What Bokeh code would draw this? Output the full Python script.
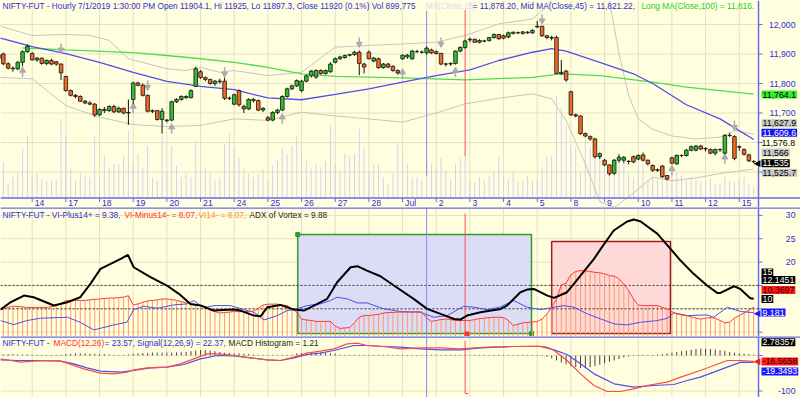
from bokeh.plotting import figure
from bokeh.models import Range1d, Label, Span
from bokeh.layouts import column
from bokeh.embed import file_html
from bokeh.resources import INLINE
from bokeh.core.properties import value

# ---------------- data ----------------
day_labels = ["14", "17", "18", "19", "20", "21", "24", "25", "26", "27", "28",
              "Jul", "2", "3", "4", "5", "8", "9", "10", "11", "12", "15"]
bars_per_day = 7
first_full_day_bar = 7

opens = [
    11885, 11900, 11867, 11852, 11850, 11872, 11908,
    11902, 11880, 11886, 11868, 11878, 11874, 11866,
    11824, 11776, 11760, 11756, 11740, 11734, 11730,
    11694, 11712, 11708, 11722, 11704, 11716, 11700,
    11746, 11802, 11794, 11760, 11706, 11708, 11678,
    11676, 11676, 11738, 11746, 11756, 11752, 11790,
    11840, 11820, 11814, 11800, 11808, 11808, 11750,
    11730, 11776, 11722, 11714, 11746, 11742, 11710,
    11684, 11676, 11702, 11710, 11756, 11782, 11792,
    11776, 11808, 11826, 11822, 11844, 11834, 11840,
    11872, 11884, 11888, 11896, 11898, 11906, 11866,
    11906, 11876, 11884, 11854, 11866, 11858, 11844,
    11884, 11890, 11884, 11908, 11906, 11904.1, 11914,
    11908, 11902, 11866, 11866, 11868, 11910, 11922,
    11948, 11950, 11940, 11944, 11946, 11956, 11966,
    11962, 11958, 11970, 11972, 11970, 11974, 11972,
    11992, 11994, 11962, 11956, 11956, 11834, 11842,
    11772, 11694, 11690, 11630, 11620, 11612, 11552,
    11540, 11524, 11496, 11540, 11540, 11536, 11552,
    11544, 11558, 11540, 11522, 11508, 11520, 11488,
    11548, 11528, 11556, 11556, 11574, 11574, 11588,
    11578, 11576, 11564, 11576, 11564, 11624, 11620,
    11586, 11576, 11558, 11536]
highs = [
    11900, 11905, 11872, 11858, 11876, 11912, 11933,
    11906, 11890, 11888, 11882, 11884, 11876, 11868,
    11826, 11780, 11764, 11760, 11744, 11740, 11734,
    11716, 11720, 11726, 11728, 11722, 11718, 11746,
    11806, 11806, 11800, 11762, 11712, 11710, 11716,
    11680, 11742, 11750, 11760, 11760, 11780, 11858,
    11846, 11824, 11816, 11812, 11816, 11820, 11756,
    11766, 11780, 11728, 11750, 11750, 11746, 11720,
    11690, 11706, 11714, 11760, 11786, 11796, 11814,
    11812, 11830, 11846, 11848, 11848, 11848, 11872,
    11888, 11894, 11898, 11900, 11910, 11912, 11870,
    11912, 11890, 11888, 11870, 11870, 11862, 11848,
    11898, 11900, 11914, 11914, 11912, 11925, 11918,
    11912, 11904, 11870, 11872, 11912, 11926, 11948,
    11956, 11952, 11950, 11948, 11958, 11970, 11968,
    11966, 11976, 11976, 11976, 11978, 11978, 11984,
    12012, 11996, 11964, 11962, 11962, 11880, 11846,
    11776, 11698, 11692, 11634, 11624, 11616, 11566,
    11544, 11526, 11544, 11560, 11554, 11540, 11556,
    11560, 11566, 11542, 11526, 11512, 11524, 11490,
    11552, 11560, 11560, 11578, 11590, 11592, 11592,
    11584, 11580, 11580, 11580, 11628, 11632, 11624,
    11590, 11580, 11562, 11540]
lows = [
    11880, 11862, 11848, 11840, 11845, 11858, 11904,
    11878, 11874, 11864, 11862, 11862, 11860, 11812,
    11772, 11756, 11750, 11738, 11730, 11726, 11686,
    11690, 11700, 11704, 11700, 11700, 11696, 11660,
    11730, 11790, 11756, 11702, 11700, 11674, 11630,
    11668, 11672, 11734, 11742, 11748, 11750, 11788,
    11816, 11808, 11796, 11792, 11800, 11744, 11744,
    11726, 11722, 11700, 11710, 11736, 11706, 11704,
    11672, 11672, 11696, 11706, 11752, 11778, 11788,
    11770, 11804, 11820, 11816, 11830, 11830, 11836,
    11868, 11880, 11884, 11892, 11894, 11828, 11834,
    11882, 11872, 11850, 11850, 11852, 11840, 11830,
    11880, 11884, 11880, 11904, 11902, 11897.3, 11900,
    11898, 11862, 11858, 11860, 11864, 11906, 11918,
    11940, 11938, 11936, 11940, 11942, 11952, 11948,
    11950, 11954, 11966, 11968, 11966, 11968, 11968,
    11988, 11958, 11950, 11946, 11832, 11828, 11806,
    11690, 11686, 11626, 11618, 11606, 11546, 11544,
    11520, 11488, 11490, 11532, 11530, 11526, 11530,
    11540, 11536, 11522, 11500, 11500, 11480, 11472,
    11526, 11524, 11550, 11552, 11570, 11570, 11574,
    11570, 11560, 11556, 11568, 11560, 11618, 11540,
    11572, 11556, 11534, 11530]
closes = [
    11898, 11867, 11852, 11850, 11872, 11908, 11926,
    11880, 11886, 11868, 11878, 11866, 11866, 11836,
    11776, 11760, 11756, 11740, 11734, 11730, 11694,
    11712, 11708, 11722, 11704, 11716, 11700, 11702,
    11802, 11794, 11760, 11706, 11708, 11678, 11706,
    11674, 11738, 11746, 11756, 11752, 11776, 11850,
    11820, 11814, 11800, 11808, 11806, 11750, 11750,
    11762, 11728, 11714, 11746, 11742, 11710, 11716,
    11676, 11702, 11710, 11756, 11782, 11792, 11810,
    11808, 11826, 11842, 11844, 11834, 11844, 11866,
    11884, 11890, 11895, 11898, 11906, 11868, 11856,
    11884, 11886, 11854, 11866, 11856, 11844, 11836,
    11896, 11896, 11910, 11908, 11906, 11920, 11904,
    11902, 11866, 11866, 11868, 11910, 11922, 11944,
    11950, 11940, 11946, 11944, 11956, 11966, 11952,
    11954, 11972, 11974, 11972, 11975, 11972, 11980,
    11994, 11962, 11956, 11954, 11834, 11838, 11812,
    11694, 11690, 11630, 11622, 11612, 11552, 11562,
    11524, 11494, 11540, 11550, 11550, 11536, 11534,
    11556, 11540, 11528, 11506, 11506, 11484, 11476,
    11530, 11556, 11556, 11574, 11586, 11588, 11578,
    11580, 11564, 11576, 11576, 11624, 11624, 11546,
    11584, 11560, 11538, 11535]
volume_k = [
    600, 883, 342, 508, 633, 1216, 1550,
    508, 591, 466, 425, 425, 466, 1966,
    1550, 716, 425, 633, 550, 508, 1550,
    550, 1050, 758, 841, 841, 1050, 1674,
    841, 1091, 758, 1300, 508, 425, 1550,
    675, 1300, 800, 508, 591, 508, 1424,
    758, 716, 591, 425, 508, 1341, 1591,
    1258, 1008, 716, 591, 508, 591, 716,
    425, 800, 966, 1258, 1091, 1300, 1550,
    1091, 925, 716, 841, 758, 925, 1800,
    841, 675, 1091, 1050, 1091, 1716, 1258,
    675, 841, 841, 508, 342, 591, 1383,
    1091, 841, 508, 508, 425, 900, 841,
    758, 1008, 675, 466, 841, 1008, 1008,
    425, 383, 508, 425, 550, 675, 1008,
    508, 466, 675, 383, 425, 550, 425,
    425, 758, 1050, 1050, 2549, 2257, 1800,
    1300, 1258, 633, 1550, 1258, 1091, 1175,
    800, 716, 758, 1091, 841, 591, 508,
    758, 841, 425, 508, 425, 758, 508,
    716, 633, 550, 425, 508, 425, 383,
    425, 466, 342, 342, 508, 425, 383,
    425, 508, 342, 258]

ma45_bar = [0, 1, 7, 14, 21, 28, 35, 42, 49, 56, 63, 70, 77, 84, 91, 98, 104, 111,
            115, 118, 125, 132, 136, 143, 150, 157]
ma45_val = [11955, 11951, 11925, 11901, 11872, 11838, 11807, 11790, 11779, 11751, 11745,
            11763, 11782, 11805, 11827, 11846, 11878, 11906, 11918, 11910, 11872, 11833,
            11800, 11728, 11680, 11610]
ma100_bar = [5, 14, 28, 35, 42, 49, 56, 63, 70, 84, 97, 111, 117, 125, 136, 143, 150, 157]
ma100_val = [11921, 11914, 11905, 11895, 11884, 11872, 11855, 11833, 11824, 11819, 11812,
             11821, 11833, 11827, 11805, 11788, 11776, 11764]
bb_up_bar = [0, 1, 7, 14, 19, 23, 27, 35, 39, 42, 46, 49, 56, 63, 70, 77, 84, 91, 97,
             104, 111, 114, 118, 122, 125, 127, 129, 131, 133, 136, 140, 145, 150, 153, 157]
bb_up_val = [12000, 11991, 11963, 11966, 11963, 11946, 11884, 11850, 11844, 11855, 11838,
             11844, 11827, 11838, 11923, 11929, 11934, 11940, 11963, 12002, 12019, 12060,
             12150, 12200, 12150, 12081, 11900, 11760, 11680, 11645, 11622, 11612, 11618,
             11640, 11628]
bb_lo_bar = [0, 7, 14, 21, 28, 35, 42, 49, 56, 63, 70, 77, 84, 91, 97, 104, 111, 115,
             118, 122, 125, 128, 131, 136, 140, 145, 150, 157]
bb_lo_val = [11821, 11816, 11725, 11686, 11661, 11654, 11658, 11680, 11675, 11703, 11690,
             11680, 11669, 11700, 11731, 11750, 11765, 11748, 11675, 11528, 11400, 11380,
             11415, 11483, 11470, 11480, 11495, 11510]
frac_dn_bar = [13, 31, 47, 75, 92, 113, 153]
frac_dn_price = [11914, 11788, 11833, 11934, 11934, 12013, 11652]
frac_up_bar = [5, 28, 36, 59, 84, 95, 140, 151]
frac_up_price = [11844, 11722, 11652, 11686, 11838, 11844, 11511, 11550]
cursor_bar = 89
marker_bar = 97

vi_minus = [
    9.8, 10.0, 10.3, 10.55, 10.5, 10.4, 10.3,
    10.3, 10.3, 10.3, 10.3, 10.5, 10.7, 11.2,
    11.7, 11.8, 11.8, 11.8, 11.8, 11.9, 12.05,
    12.1, 12.2, 12.3, 12.3, 12.4, 12.5, 12.8,
    10.8, 11.05, 11.4, 11.7, 11.8, 11.9, 12.1,
    12.1, 12.0, 11.8, 11.55, 11.3, 11.0, 10.8,
    10.7, 10.3, 9.7, 9.4, 9.1, 9.2, 9.3,
    9.4, 9.4, 9.4, 9.4, 9.5, 10.1, 10.8,
    11.0, 11.0, 11.0, 10.8, 10.7, 10.0, 9.3,
    7.8, 7.6, 7.5, 7.3, 7.3, 7.3, 7.3,
    6.3, 5.8, 5.9, 6.0, 7.0, 8.2, 8.55,
    8.55, 8.7, 8.8, 9.1, 9.2, 9.2, 9.3,
    9.3, 9.3, 9.3, 9.4, 9.3, 8.07, 7.3,
    7.5, 7.7, 7.8, 7.7, 7.5, 7.5, 7.5,
    7.5, 7.7, 7.9, 8.0, 8.1, 8.2, 8.2,
    8.1, 7.5, 6.4, 6.7, 7.0, 7.1, 7.2,
    7.3, 7.8, 8.9, 10.3, 12.1, 15.1, 15.5,
    17.3, 18.0, 18.2, 18.1, 18.0, 17.8, 17.7,
    17.5, 17.1, 17.0, 16.4, 15.3, 13.9, 12.1,
    10.8, 10.7, 10.7, 10.7, 10.7, 10.3, 10.0,
    9.4, 8.9, 8.7, 8.55, 8.3, 8.0, 7.8,
    8.0, 8.1, 8.0, 7.5, 7.0, 7.1, 8.0,
    8.55, 9.1, 9.7, 10.37]
vi_plus_bar = [0.4, 3.2, 5.9, 8.7, 14.3, 17, 19.8, 24, 26.7, 28.1, 30.2, 33, 36.4, 39.2,
               40.6, 42, 43.4, 44.8, 48.2, 51, 53.1, 55.2, 58, 60, 61.4, 64.2, 66.9, 69,
               70.4, 72.5, 74.6, 76.6, 80.1, 83.6, 87.7, 90.5, 93.3, 96.7, 98.8, 101.6,
               104.2, 107.1, 109.9, 112.7, 115.5, 117.5, 119.6, 122.4, 125.2, 128, 130.7,
               133.5, 137, 139, 140.4, 143.2, 147.3, 148.7, 151.5, 154.3, 157]
vi_plus_val = [7.48, 6.62, 7.48, 7.98, 8.19, 7.12, 5.48, 6.55, 7.12, 9.83, 10.55, 10.12,
               10.83, 11.05, 11.76, 10.69, 10.34, 10.69, 10.69, 9.83, 9.26, 7.62, 8.55,
               9.62, 9.83, 10.69, 11.05, 11.76, 12.48, 12.12, 11.26, 11.26, 9.98, 9.41,
               9.26, 8.19, 8.55, 10.55, 10.34, 9.83, 10.34, 11.76, 10.34, 9.83, 10.34,
               10.69, 10.34, 8.91, 7.83, 6.76, 6.55, 7.12, 7.48, 7.98, 9.12, 8.55, 8.69,
               8.19, 10.34, 9.41, 9.18]
adx_bar = [0.4, 2.5, 5.3, 7.3, 11.5, 14.3, 17, 19.1, 21.2, 23.3, 25.4, 26.9, 28.1, 31.6,
           35, 37.8, 39.9, 42, 44.8, 48.9, 50.3, 53.1, 54.5, 55.9, 58.6, 61.4, 63.5, 66.3,
           68.3, 70.4, 73.2, 74.6, 76.6, 79.4, 82.2, 86.3, 89.1, 91.9, 94.7, 96, 97.4,
           100.2, 104.4, 105.7, 108.5, 109.9, 111.3, 114.1, 115.5, 118.2, 121, 123.8,
           125.2, 127.9, 130.7, 132.1, 133.5, 137, 139.7, 141.8, 144.5, 147.3, 149.4,
           150.1, 152.9, 154.2, 156.3, 157]
adx_val = [9.83, 11.4, 12.83, 12.48, 10.7, 11.4, 12.48, 15.33, 18.55, 19.62, 20.7, 21.55,
           18.9, 16.76, 14.98, 12.98, 11.05, 10.7, 9.62, 9.83, 9.62, 8.55, 8.41, 10.34,
           10.83, 9.83, 9.62, 11.05, 12.12, 15.69, 18.9, 19.12, 18.19, 16.98, 14.98, 12.12,
           9.98, 8.91, 7.83, 7.69, 8.55, 9.26, 9.98, 10.69, 13.55, 14.12, 14.26, 12.83,
           12.33, 13.55, 17.12, 20.69, 22.83, 26.76, 28.69, 29.12, 28.69, 26.05, 22.83,
           20.33, 17.48, 14.98, 13.41, 13.41, 14.83, 14.26, 12.26, 12.15]
zone_left = [62.2, 115.0]
zone_right = [110.8, 139.7]
zone_top = [25.9, 24.4]
zone_bottom = [4.7, 4.7]

macd_bar = [0.4, 2.5, 4.6, 7.3, 10.8, 12.9, 14.3, 17.7, 21.2, 24, 26.7, 28.1, 30.9, 35,
            37.8, 40.6, 43.4, 46.1, 48.9, 52.4, 55.9, 58.6, 61.4, 64.2, 66.9, 69.7, 72.5,
            74.6, 76.6, 80.1, 83.6, 87.7, 91.9, 96, 101.6, 107.1, 112, 114, 115.5, 118.2,
            121, 123.8, 126.5, 129.3, 132.1, 134.8, 139, 141.8, 145.9, 148.7, 151.5,
            154.3, 157]
macd_val = [-9.4, -14.1, -18.8, -16, -14.1, -16, -21.6, -37.6, -49.8, -51.7, -47, -40.4,
            -34.8, -32.9, -23.5, -9.4, 4.7, 4.7, 0, -6.6, -12.2, -14.1, -4.7, 6.5, 12.2,
            18.8, 32.8, 34.7, 28.1, 25.3, 18.8, 21.6, 21.6, 18.8, 23.5, 25.3, 26.3, 23.5,
            14.1, -14.1, -51.7, -84.5, -101.4, -101.4, -93.9, -84.5, -75.1, -61, -42.3,
            -28.2, -14.1, -14.1, -16.57]
signal_bar = [0.4, 3.9, 7.3, 12.9, 15.7, 18.4, 21.2, 25.4, 28.1, 31.6, 35, 38.5, 42,
              45.5, 48.9, 52.4, 55.9, 58.6, 61.4, 64.2, 66.9, 69.7, 73.9, 76.6, 80.1,
              83.6, 87.7, 91.9, 96, 100.2, 107.1, 112.7, 115.5, 118.2, 121, 123.8, 128,
              132.1, 136.2, 140.4, 143.2, 145.9, 148.7, 151.5, 154.3, 157]
signal_val = [-12.2, -14.1, -14.1, -16, -23.5, -34.8, -44.2, -47, -42.3, -34.8, -32.9,
              -25.4, -9.4, 0, -0.9, -6.6, -12.2, -14.1, -6.6, 2.8, 6.5, 14.1, 28.1, 28.1,
              25.3, 23.5, 18.8, 16, 16, 21.6, 25.3, 25.3, 16, 2.8, -23.5, -51.7, -79.8,
              -89.2, -84.5, -81.7, -70.4, -61, -47, -32.9, -18.8, -19.35]
macd_hist = [
    3, 3, 4, 4, 3, 3, 3, 2, 2,
    2, 2, 2, 2, 2,
    4, 5, 6, 6, 6, 5, 5, 4, 4, 3,
    2, 2, 2, 3,
    5, 6, 7, 7, 8, 8, 8, 8, 8, 9, 9, 10,
    12, 14, 15, 15, 14, 12, 10,
    8, 7, 6, 6, 5, 4, 3, 2,
    2, 2, 2, 2, 2, 2, 2,
    6, 7, 8, 8, 8, 8, 7, 6, 5,
    2, 2, 2, 2, 2, 2, 2, 2, 2, 2, 2, 2, 2,
    2, -2, -2, -2, 2, 2, 2, 2, 2, 2, 2, 2, 2, 2, 2, 2, 2, 2, 2, 2, 2, 2, 2, 2, 2, 2, 2, 2, 2,
    -2, -4, -8, -14, -20, -25, -30, -33, -35, -35, -33, -30, -26, -22, -18, -14, -10, -6, -3,
    2, 2, 2, 2, 2, 3, 4,
    6, 8, 10, 12, 14, 16, 18, 19, 19, 18, 17, 15, 13, 10, 8,
    6, 5, 4, 2.78]

price_ticks = [11500, 11600, 11700, 11800, 11900, 12000]
price_tick_labels = ["", "", "11,700", "11,800", "11,900", "12,000"]
vi_ticks = [5, 10, 15, 20, 25, 30]
vi_tick_labels = ["", "", "", "20", "25", "30"]
macd_ticks = [-100, 0]
macd_tick_labels = ["-100", ""]

main_value_labels = ["11,764.1", "11,627.9", "11,609.6", "11,576.8", "11,566", "11,535", "11,525.7"]
vi_value_labels = ["15", "12.1451", "10.3697", "10", "9.181"]
macd_value_labels = ["2.78357", "-16.5658", "-19.3493"]

title_main = "NIFTY-FUT - Hourly 7/1/2019 1:30:00 PM Open 11904.1, Hi 11925, Lo 11897.3, Close 11920 (0.1%) Vol 899,775"
title_short = "MA(Close,15)"
title_mid = "= 11,878.20, Mid MA(Close,45) = 11,821.22,"
title_long = "Long MA(Close,100) = 11,816."

# ---------------- style / layout ----------------
FONT = "Liberation Sans"
BG = "#ffffe0"
GRID = "#e5e1c2"
AXC = "#6a6aee"
TXT = "#2e2ed4"
UP = "#2fbf2f"
DN = "#f26a22"
W = 800
H1, H2, H3 = 207, 129, 61
AX_X = 158.0                   # bar position of the right axis line
PX_PER_BAR = 4.81
XR = Range1d(0.41, 0.41 + W / PX_PER_BAR)

# main panel vertical geometry (price units): price area 0..197 px, date band 197..207 px
P_TOP = 12081.4
P_PER_PX = 1 / 0.295
P_AXIS = P_TOP - 197.5 * P_PER_PX
P_BOT = P_TOP - H1 * P_PER_PX

n = len(closes)
idx = list(range(n))
day_starts = [first_full_day_bar + bars_per_day * i for i in range(len(day_labels))]


def make_fig(h, y0, y1):
    p = figure(width=W, height=h, x_range=XR, y_range=Range1d(y0, y1), title=None,
               x_axis_location=None, y_axis_location=None,
               output_backend="svg", toolbar_location=None,
               min_border_left=0, min_border_right=0, min_border_top=0, min_border_bottom=0,
               background_fill_color=BG, border_fill_color=BG, outline_line_color=None)
    p.xgrid.visible = False
    p.ygrid.visible = False
    return p


def grid_and_axis(p, ticks, labels, g_lo, g_hi, a_lo, a_hi):
    k = len(ticks)
    p.segment(x0=day_starts, y0=[g_lo] * len(day_starts), x1=day_starts, y1=[g_hi] * len(day_starts),
              line_color=GRID, line_width=1)
    p.segment(x0=[XR.start] * k, y0=ticks, x1=[AX_X] * k, y1=ticks, line_color=GRID, line_width=1)
    p.segment(x0=[AX_X], y0=[a_lo], x1=[AX_X], y1=[a_hi], line_color=AXC, line_width=1.5)
    p.segment(x0=[AX_X] * k, y0=ticks, x1=[AX_X + 4 / PX_PER_BAR] * k, y1=ticks,
              line_color=AXC, line_width=1)
    p.text(x=[AX_X] * k, y=ticks, text=labels, x_offset=37, text_align="right",
           text_baseline="middle", text_font=value(FONT), text_font_size=value("8.7px"),
           text_color=TXT)


def text(p, s, x, y, color):
    p.add_layout(Label(x=x, y=y, x_units="screen", y_units="data", text=s,
                       text_font=FONT, text_font_size="8.3px", text_color=color,
                       text_baseline="middle", text_align="left"))


def box(p, s, y, bg, fg):
    kw = dict(x=AX_X, y=y, x_units="data", y_units="data", x_offset=3, text=s,
              text_font=FONT, text_font_size="8.8px", text_color=fg,
              text_baseline="middle", text_align="left")
    if bg is not None:
        kw.update(background_fill_color=bg, padding=1)
    p.add_layout(Label(**kw))


def arrow(p, y, color):
    p.add_layout(Label(x=AX_X, y=y, x_units="data", y_units="data", x_offset=-5, text="\u25C0",
                       text_font="DejaVu Sans", text_font_size="9px", text_color=color,
                       text_baseline="middle", text_align="left"))


# ---------------- main price panel ----------------
p1 = make_fig(H1, P_BOT, P_TOP)
grid_and_axis(p1, price_ticks, price_tick_labels, P_AXIS, P_TOP, P_BOT, P_TOP)

p1.extra_y_ranges = {"vol": Range1d(-10 * 25, 197 * 25)}
p1.segment(x0=idx, y0=[0] * n, x1=idx, y1=volume_k, y_range_name="vol",
           line_color="#d2d2f2", line_width=1)

p1.line(bb_up_bar, bb_up_val, line_color="#c4c4c4", line_width=1)
p1.line(bb_lo_bar, bb_lo_val, line_color="#c4c4c4", line_width=1)
p1.line(ma100_bar, ma100_val, line_color="#4fdc4f", line_width=1.3)
p1.line(ma45_bar, ma45_val, line_color="#4e4eea", line_width=1.3)

# cursor lines
p1.segment(x0=[cursor_bar], y0=[12047], x1=[cursor_bar], y1=[11488], line_color="#8a8af2", line_width=1)
p1.segment(x0=[marker_bar], y0=[12050], x1=[marker_bar], y1=[11553], line_color="#ff5050", line_width=1)

# fractal arrows
p1.segment(x0=frac_dn_bar, y0=[v + 22 for v in frac_dn_price], x1=frac_dn_bar, y1=frac_dn_price,
           line_color="#ababab", line_width=1.5)
p1.scatter(frac_dn_bar, frac_dn_price, marker="inverted_triangle", size=6,
           fill_color="#ababab", line_color="#ababab")
p1.segment(x0=frac_up_bar, y0=[v - 22 for v in frac_up_price], x1=frac_up_bar, y1=frac_up_price,
           line_color="#ababab", line_width=1.5)
p1.scatter(frac_up_bar, frac_up_price, marker="triangle", size=6,
           fill_color="#ababab", line_color="#ababab")

# candles
p1.segment(x0=idx, y0=highs, x1=idx, y1=lows, line_color="#111111", line_width=1)
body_top = [max(o, c) for o, c in zip(opens, closes)]
body_bot = [min(o, c) for o, c in zip(opens, closes)]
body_col = [UP if c >= o else DN for o, c in zip(opens, closes)]
p1.vbar(x=idx, width=0.74, top=body_top, bottom=body_bot, fill_color=body_col,
        line_color="#111111", line_width=0.8)

# date axis band
p1.add_layout(Span(location=P_AXIS, dimension="width", line_color=AXC, line_width=1.5))
p1.segment(x0=day_starts, y0=[P_AXIS] * len(day_starts), x1=day_starts,
           y1=[P_AXIS - 4 * P_PER_PX] * len(day_starts), line_color=AXC, line_width=1)
p1.text(x=day_starts, y=[P_TOP - 202.5 * P_PER_PX] * len(day_starts), text=day_labels,
        x_offset=2.5, text_align="left", text_baseline="middle", text_font=value(FONT),
        text_font_size=value("8.7px"), text_color=TXT)

text(p1, title_main, 2, P_TOP - 5.5 * P_PER_PX, TXT)
text(p1, title_short, 425, P_TOP - 5.5 * P_PER_PX, "#dadaf0")
text(p1, title_mid, 472, P_TOP - 5.5 * P_PER_PX, TXT)
text(p1, title_long, 641, P_TOP - 5.5 * P_PER_PX, "#22d022")

main_box_px = [94, 122.7, 132.3, 142.3, 152, 162.7, 172.3]
main_box_bg = ["#33ee33", "#c8c8c8", "#1414ee", None, "#c8c8c8", "#000000", "#c8c8c8"]
main_box_fg = ["#000000", "#000000", "#ffffff", "#000000", "#000000", "#ffffff", "#000000"]
for s, py, bg, fg in zip(main_value_labels, main_box_px, main_box_bg, main_box_fg):
    box(p1, s, P_TOP - py * P_PER_PX, bg, fg)
arrow(p1, P_TOP - 162.7 * P_PER_PX, "#000000")

# ---------------- vortex panel ----------------
V_TOP, V_BOT = 31.69, 4.07
p2 = make_fig(H2, V_BOT, V_TOP)
grid_and_axis(p2, vi_ticks, vi_tick_labels, V_BOT, V_TOP, V_BOT, V_TOP)
p2.quad(left=zone_left[:1], right=zone_right[:1], top=zone_top[:1], bottom=zone_bottom[:1],
        fill_color="#dcdcf6", line_color="#2f9a2f", line_width=1.5)
p2.quad(left=zone_left[1:], right=zone_right[1:], top=zone_top[1:], bottom=zone_bottom[1:],
        fill_color="#ffd8d8", line_color="#a01c1c", line_width=1.5)
p2.scatter([zone_left[0], zone_right[0]], [zone_top[0], zone_bottom[0]], marker="square",
           size=4, fill_color="#2f9a2f", line_color="#2f9a2f")
p2.segment(x0=idx, y0=[V_BOT] * n, x1=idx, y1=vi_minus, line_color="#ff9a66", line_width=1)
p2.segment(x0=[XR.start, XR.start], y0=[15, 10], x1=[AX_X, AX_X], y1=[15, 10],
           line_color="#333333", line_dash="2 2", line_width=1)
p2.segment(x0=[cursor_bar], y0=[V_BOT], x1=[cursor_bar], y1=[V_TOP], line_color="#8a8af2", line_width=1)
p2.segment(x0=[marker_bar], y0=[30.4], x1=[marker_bar], y1=[V_BOT], line_color="#ff5050", line_width=1)
p2.scatter([marker_bar + 0.4], [4.6], marker="square", size=4, fill_color="#ff3030", line_color="#ff3030")
p2.line(vi_plus_bar, vi_plus_val, line_color="#4e4eea", line_width=1)
p2.line(idx, vi_minus, line_color="#ff3b3b", line_width=1)
p2.line(adx_bar, adx_val, line_color="#000000", line_width=2)
p2.add_layout(Span(location=V_TOP, dimension="width", line_color=AXC, line_width=2.5))

VH = 10 + (308.3 - 215) / 4.67
text(p2, "NIFTY-FUT - VI-Plus14+ = 9.38,", 2, VH, TXT)
text(p2, "VI-Minus14- = 8.07,", 124, VH, "#ff3030")
text(p2, "VI14- = 8.07,", 198, VH, "#ff8c3a")
text(p2, "ADX of Vortex = 9.88", 249, VH, "#222222")

vi_box_px = [272, 279.5, 289.5, 298.5, 312]
vi_box_bg = ["#000000", "#000000", "#ff1a1a", "#000000", "#1a1aff"]
vi_box_fg = ["#ffffff", "#ffffff", "#300000", "#ffffff", "#ffffff"]
for s, py, bg, fg in zip(vi_value_labels, vi_box_px, vi_box_bg, vi_box_fg):
    box(p2, s, 10 + (308.3 - py) / 4.67, bg, fg)
arrow(p2, 10 + (308.3 - 312) / 4.67, "#1a1aff")

# ---------------- MACD panel ----------------
M_TOP, M_BOT = 53.5, -118.3
p3 = make_fig(H3, M_BOT, M_TOP)
grid_and_axis(p3, macd_ticks, macd_tick_labels, M_BOT, M_TOP, M_BOT, M_TOP)
p3.segment(x0=[cursor_bar], y0=[M_BOT], x1=[cursor_bar], y1=[M_TOP], line_color="#8a8af2", line_width=1)
p3.segment(x0=[marker_bar, marker_bar], y0=[42, -107], x1=[marker_bar, marker_bar + 0.7],
           y1=[-107, -107], line_color="#ff5050", line_width=1)
p3.segment(x0=idx, y0=[0] * n, x1=idx, y1=macd_hist, line_color="#444444", line_width=1)
p3.line(signal_bar, signal_val, line_color="#4e4eea", line_width=1.2)
p3.line(macd_bar, macd_val, line_color="#ff4a4a", line_width=1.2)
p3.add_layout(Span(location=M_TOP, dimension="width", line_color=AXC, line_width=2.5))

MH = (355 - 342.7) / 0.355
text(p3, "NIFTY-FUT - ", 2, MH, TXT)
text(p3, "MACD(12,26)", 53, MH, "#ff3030")
text(p3, "= 23.57, Signal(12,26,9) = 22.37,", 104, MH, TXT)
text(p3, "MACD Histogram = 1.21", 228, MH, "#222222")

macd_box_px = [341.7, 361, 371]
macd_box_bg = ["#000000", "#ff1a1a", "#1a1aff"]
macd_box_fg = ["#ffffff", "#300000", "#ffffff"]
for s, py, bg, fg in zip(macd_value_labels, macd_box_px, macd_box_bg, macd_box_fg):
    box(p3, s, (355 - py) / 0.355, bg, fg)
arrow(p3, (355 - 361) / 0.355, "#ff1a1a")

layout = column(p1, p2, p3, spacing=0)
with open("out.html", "w") as f:
    f.write(file_html(layout, INLINE))
